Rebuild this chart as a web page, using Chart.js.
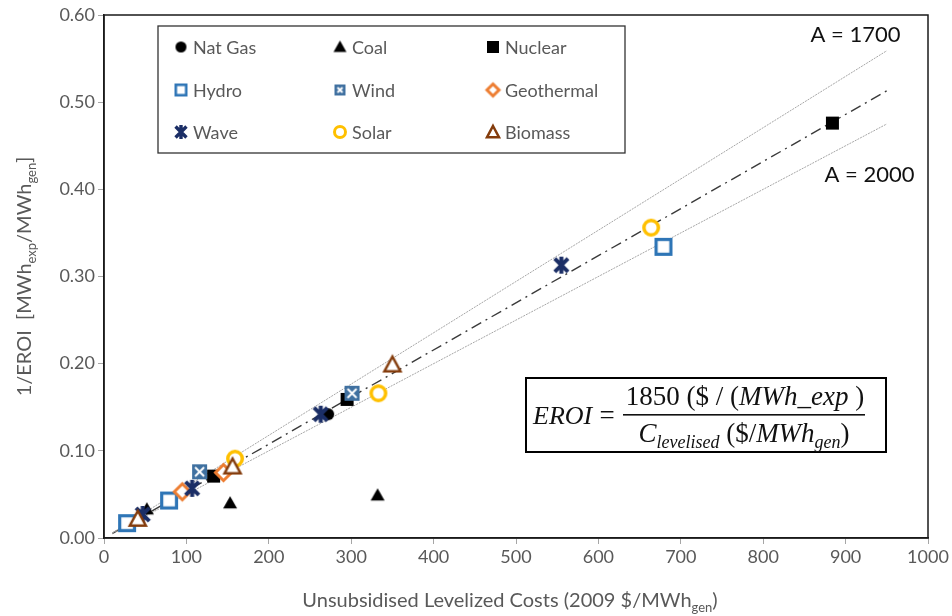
<!DOCTYPE html>
<html>
<head>
<meta charset="utf-8">
<script src="https://cdn.jsdelivr.net/npm/chart.js@4.4.1/dist/chart.umd.min.js"></script>
<style>
  html, body { margin: 0; padding: 0; background: #fff; }
  #wrap { position: relative; width: 952px; height: 616px; }
</style>
</head>
<body>
<div id="wrap"><canvas id="eroi" width="952" height="616"></canvas></div>
<script>
// --- data (x: $/MWh, y: 1/EROI) ---
const natGasX = [272];
const natGasY = [0.142];
const coalX = [52, 153, 332];
const coalY = [0.033, 0.040, 0.049];
const nuclearX = [133, 295, 884];
const nuclearY = [0.071, 0.159, 0.476];
const hydroX = [28, 79, 679];
const hydroY = [0.017, 0.043, 0.334];
const windX = [116, 301];
const windY = [0.076, 0.166];
const geoX = [95, 145];
const geoY = [0.053, 0.075];
const waveX = [47, 107, 263, 555];
const waveY = [0.027, 0.057, 0.142, 0.313];
const solarX = [159, 333, 664];
const solarY = [0.091, 0.166, 0.356];
const biomassX = [41, 156, 350];
const biomassY = [0.022, 0.082, 0.199];

// guide lines A = 1700, fit (1850), A = 2000
const guideX = [10, 950];
const a1700Y = [0.006, 0.559];
const fitY = [0.005, 0.513];
const a2000Y = [0.005, 0.475];

const xTicks = [0, 100, 200, 300, 400, 500, 600, 700, 800, 900, 1000];
const yTicks = [0, 0.1, 0.2, 0.3, 0.4, 0.5, 0.6];

const GRAY = '#595959';
const FONT = 'Lato';

function pts(xs, ys) {
  return xs.map((x, i) => ({ x, y: ys[i] }));
}

// marker images, Excel style
function marker(kind, s) {
  const n = Math.ceil(s + 8);
  const cv = document.createElement('canvas');
  cv.width = n;
  cv.height = n;
  const g = cv.getContext('2d');
  const c = n / 2, h = s / 2;
  g.lineJoin = 'miter';
  switch (kind) {
    case 'natgas':
      g.fillStyle = '#000';
      g.beginPath(); g.arc(c, c, h, 0, Math.PI * 2); g.fill();
      break;
    case 'coal':
      g.fillStyle = '#000';
      g.beginPath(); g.moveTo(c, c - h); g.lineTo(c + h, c + h * 0.75); g.lineTo(c - h, c + h * 0.75); g.closePath(); g.fill();
      break;
    case 'nuclear':
      g.fillStyle = '#000';
      g.fillRect(c - h, c - h, s, s);
      break;
    case 'hydro': {
      const lw = s > 14 ? 3.2 : 2.6;
      g.fillStyle = '#fff'; g.strokeStyle = '#2E75B6'; g.lineWidth = lw;
      g.fillRect(c - h, c - h, s, s);
      g.strokeRect(c - h + lw / 2, c - h + lw / 2, s - lw, s - lw);
      break;
    }
    case 'wind':
      g.fillStyle = '#3F70A0';
      g.fillRect(c - h, c - h, s, s);
      g.strokeStyle = '#fff'; g.lineWidth = 2;
      g.beginPath();
      g.moveTo(c - h + 3, c - h + 3); g.lineTo(c + h - 3, c + h - 3);
      g.moveTo(c + h - 3, c - h + 3); g.lineTo(c - h + 3, c + h - 3);
      g.stroke();
      break;
    case 'geo': {
      const lw = 3;
      g.fillStyle = '#fff'; g.strokeStyle = '#ED7D31'; g.lineWidth = lw;
      const r = h - lw / 2;
      g.beginPath(); g.moveTo(c, c - r); g.lineTo(c + r, c); g.lineTo(c, c + r); g.lineTo(c - r, c); g.closePath();
      g.fill(); g.stroke();
      break;
    }
    case 'wave': {
      g.strokeStyle = '#1B2E66'; g.lineWidth = s > 14 ? 4 : 3.4;
      const r = h * 0.78;
      g.beginPath();
      g.moveTo(c - r, c - r); g.lineTo(c + r, c + r);
      g.moveTo(c + r, c - r); g.lineTo(c - r, c + r);
      g.moveTo(c, c - h); g.lineTo(c, c + h);
      g.stroke();
      break;
    }
    case 'solar': {
      const lw = s > 14 ? 3.5 : 3;
      g.fillStyle = '#fff'; g.strokeStyle = '#FFC000'; g.lineWidth = lw;
      g.beginPath(); g.arc(c, c, h - lw / 2, 0, Math.PI * 2); g.fill(); g.stroke();
      break;
    }
    case 'biomass': {
      const lw = 2.5;
      g.fillStyle = '#fff'; g.strokeStyle = '#843C0C'; g.lineWidth = lw;
      g.beginPath(); g.moveTo(c, c - h + 1); g.lineTo(c + h - 1, c + h * 0.75); g.lineTo(c - h + 1, c + h * 0.75); g.closePath();
      g.fill(); g.stroke();
      break;
    }
  }
  return cv;
}

const series = [
  { label: 'Nat Gas', kind: 'natgas', size: 12, legSize: 11, xs: natGasX, ys: natGasY },
  { label: 'Coal', kind: 'coal', size: 14, legSize: 13, xs: coalX, ys: coalY },
  { label: 'Nuclear', kind: 'nuclear', size: 13, legSize: 12, xs: nuclearX, ys: nuclearY },
  { label: 'Hydro', kind: 'hydro', size: 18, legSize: 13, xs: hydroX, ys: hydroY },
  { label: 'Wind', kind: 'wind', size: 15, legSize: 11, xs: windX, ys: windY },
  { label: 'Geothermal', kind: 'geo', size: 19, legSize: 15, xs: geoX, ys: geoY },
  { label: 'Wave', kind: 'wave', size: 17, legSize: 14, xs: waveX, ys: waveY },
  { label: 'Solar', kind: 'solar', size: 18, legSize: 14, xs: solarX, ys: solarY },
  { label: 'Biomass', kind: 'biomass', size: 18, legSize: 14, xs: biomassX, ys: biomassY }
];
series.forEach((s) => {
  s.img = marker(s.kind, s.size);
  s.legImg = marker(s.kind, s.legSize);
});

function guide(label, ys, color, width, dash) {
  return {
    label, data: pts(guideX, ys), showLine: true, pointRadius: 0, borderColor: color,
    borderWidth: width, borderDash: dash, fill: false, order: 100
  };
}

const datasets = [
  guide('A = 1700', a1700Y, '#A6A6A6', 1, [2, 1]),
  guide('A = 2000', a2000Y, '#A6A6A6', 1, [2, 1]),
  guide('Fit', fitY, '#3A3A3A', 1.4, [11, 5, 2, 5])
].concat(series.map((s, i) => ({
  label: s.label, data: pts(s.xs, s.ys), pointStyle: s.img, pointRadius: s.size / 2 + 1,
  pointHoverRadius: s.size / 2 + 1, showLine: false, order: series.length - i
})));

// draw a run of text pieces: [text, font, dy]
function runs(ctx, parts, x, y, align) {
  let w = 0;
  parts.forEach((p) => { ctx.font = p[1]; w += ctx.measureText(p[0]).width; });
  let cx = align === 'center' ? x - w / 2 : align === 'right' ? x - w : x;
  ctx.textAlign = 'left';
  ctx.textBaseline = 'alphabetic';
  parts.forEach((p) => {
    ctx.font = p[1];
    ctx.fillText(p[0], cx, y + (p[2] || 0));
    cx += ctx.measureText(p[0]).width;
  });
  return w;
}

const decorations = {
  id: 'decorations',
  beforeDatasetsDraw(chart) {
    const { ctx, chartArea: a } = chart;
    ctx.save();
    ctx.strokeStyle = '#1a1a1a';
    ctx.lineWidth = 1.5;
    ctx.strokeRect(a.left, a.top, a.right - a.left, a.bottom - a.top);
    ctx.restore();
  },
  afterDatasetsDraw(chart) {
    const { ctx } = chart;
    const sx = chart.scales.x, sy = chart.scales.y;
    ctx.save();

    // legend box
    ctx.fillStyle = '#fff';
    ctx.fillRect(158, 26, 467, 127);
    ctx.strokeStyle = '#333';
    ctx.lineWidth = 1.3;
    ctx.strokeRect(158, 26, 467, 127);
    const colX = [181, 340, 493];
    const rowY = [47, 90, 132];
    series.forEach((s, i) => {
      const mx = colX[i % 3], my = rowY[Math.floor(i / 3)];
      ctx.drawImage(s.legImg, mx - s.legImg.width / 2, my - s.legImg.height / 2);
      ctx.fillStyle = GRAY;
      ctx.font = '18px ' + FONT;
      ctx.textAlign = 'left';
      ctx.textBaseline = 'middle';
      ctx.fillText(s.label, mx + 12, my + 1);
    });

    // A labels
    ctx.fillStyle = '#111';
    ctx.font = '22px ' + FONT;
    ctx.textAlign = 'center';
    ctx.textBaseline = 'middle';
    ctx.fillText('A = 1700', sx.getPixelForValue(912), sy.getPixelForValue(0.577));
    ctx.fillText('A = 2000', sx.getPixelForValue(929), sy.getPixelForValue(0.416));

    // equation box
    ctx.fillStyle = '#fff';
    ctx.fillRect(526, 378, 360, 74);
    ctx.strokeStyle = '#000';
    ctx.lineWidth = 2;
    ctx.strokeRect(526, 378, 360, 74);
    ctx.fillStyle = '#111';
    const up = '27px "Liberation Serif"';
    const it = 'italic 27px "Liberation Serif"';
    const sub = 'italic 18px "Liberation Serif"';
    runs(ctx, [['EROI', 'italic 26px "Liberation Serif"']], 533, 424, 'left');
    runs(ctx, [['=', up]], 607, 424, 'center');
    ctx.fillRect(623, 414, 242, 1.6);
    runs(ctx, [['1850 ($ / (', up], ['MWh_exp', it], [' )', up]], 745, 405, 'center');
    runs(ctx, [['C', it], ['levelised', sub, 6], [' ($/', up], ['MWh', it], ['gen', sub, 6], [')', up]], 744, 442, 'center');

    ctx.restore();
  },
  afterDraw(chart) {
    const { ctx, chartArea: a } = chart;
    ctx.save();
    ctx.fillStyle = GRAY;
    // x title
    runs(ctx, [['Unsubsidised Levelized Costs (2009 $/MWh', '20px ' + FONT], ['gen', '13px ' + FONT, 5], [')', '20px ' + FONT]],
      (a.left + a.right) / 2 - 6, 607, 'center');
    // y title
    ctx.translate(31, (a.top + a.bottom) / 2);
    ctx.rotate(-Math.PI / 2);
    runs(ctx, [['1/EROI  [MWh', '20px ' + FONT], ['exp', '13px ' + FONT, 5], ['/MWh', '20px ' + FONT],
      ['gen', '13px ' + FONT, 5], [']', '20px ' + FONT]], 0, 0, 'center');
    ctx.restore();
  }
};

new Chart(document.getElementById('eroi').getContext('2d'), {
  type: 'scatter',
  data: { datasets },
  plugins: [decorations],
  options: {
    responsive: false,
    animation: false,
    devicePixelRatio: 1,
    layout: { padding: { top: 15, right: 24, left: 0, bottom: 0 } },
    plugins: { legend: { display: false }, tooltip: { enabled: false } },
    scales: {
      x: {
        type: 'linear', min: 0, max: 1000,
        afterBuildTicks: (s) => { s.ticks = xTicks.map((v) => ({ value: v })); },
        afterFit: (s) => { s.height = 78; },
        grid: { display: true, drawOnChartArea: false, drawTicks: true, tickLength: 6, color: '#A6A6A6' },
        border: { display: true, color: '#1a1a1a', width: 1.5 },
        ticks: { color: GRAY, font: { family: FONT, size: 18 }, padding: 2, maxRotation: 0, callback: (v) => String(v) }
      },
      y: {
        type: 'linear', min: 0, max: 0.6,
        afterBuildTicks: (s) => { s.ticks = yTicks.map((v) => ({ value: v })); },
        afterFit: (s) => { s.width = 104; },
        grid: { display: true, drawOnChartArea: false, drawTicks: true, tickLength: 6, color: '#A6A6A6' },
        border: { display: true, color: '#1a1a1a', width: 1.5 },
        ticks: { color: GRAY, font: { family: FONT, size: 18 }, padding: 3, callback: (v) => v.toFixed(2) }
      }
    }
  }
});
</script>
</body>
</html>
